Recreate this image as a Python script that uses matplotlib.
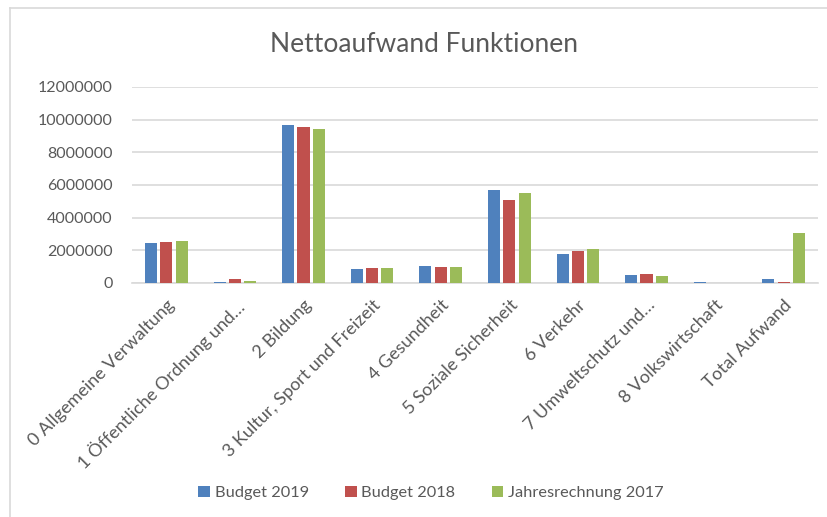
import numpy as np
import matplotlib
matplotlib.use("Agg")
import matplotlib.pyplot as plt
from matplotlib.lines import Line2D

CATEGORIES = [
    "0 Allgemeine Verwaltung",
    "1 Öffentliche Ordnung und…",
    "2 Bildung",
    "3 Kultur, Sport und Freizeit",
    "4 Gesundheit",
    "5 Soziale Sicherheit",
    "6 Verkehr",
    "7 Umweltschutz und…",
    "8 Volkswirtschaft",
    "Total Aufwand",
]
SERIES_NAMES = ["Budget 2019", "Budget 2018", "Jahresrechnung 2017"]
BUDGET_2019 = [2460000, 80000, 9680000, 840000, 1070000, 5680000, 1800000, 490000, 40000, 250000]
BUDGET_2018 = [2480000, 230000, 9540000, 920000, 980000, 5070000, 1930000, 530000, 20000, 80000]
JAHRESRECHNUNG_2017 = [2550000, 150000, 9420000, 900000, 960000, 5480000, 2110000, 430000, 20000, 3040000]
Y_TICKS = [0, 2000000, 4000000, 6000000, 8000000, 10000000, 12000000]

COLOURS = ["#4F81BD", "#C0504D", "#9BBB59"]
TEXT = "#595959"

plt.rcParams["font.family"] = ["Lato", "DejaVu Sans"]

fig = plt.figure(figsize=(8.27, 5.17), dpi=100)
ax = fig.add_axes([132 / 827, 1 - 283 / 517, (818 - 132) / 827, (283 - 87) / 517])

x = np.arange(len(CATEGORIES))
width = 0.175
step = 0.223
for i, (vals, name) in enumerate(zip([BUDGET_2019, BUDGET_2018, JAHRESRECHNUNG_2017], SERIES_NAMES)):
    ax.bar(x + (i - 1) * step, vals, width, color=COLOURS[i], label=name,
           linewidth=0, zorder=3)

ax.set_xlim(-0.5, len(CATEGORIES) - 0.5)
ax.set_ylim(0, 12000000)
ax.set_yticks(Y_TICKS)
ax.set_yticklabels([str(t) for t in Y_TICKS])
ax.yaxis.grid(True, color="#D9D9D9", linewidth=1.2, zorder=0)
ax.set_axisbelow(True)
for s in ["top", "right", "left"]:
    ax.spines[s].set_visible(False)
ax.spines["bottom"].set_color("#D9D9D9")
ax.spines["bottom"].set_linewidth(1.2)
ax.tick_params(axis="y", length=0, pad=14, labelsize=11.5, labelcolor=TEXT)
ax.tick_params(axis="x", length=0, pad=10, labelsize=13, labelcolor=TEXT)
ax.set_xticks(x)
ax.set_xticklabels(CATEGORIES, rotation=45, ha="right", rotation_mode="anchor")

fig.text(424 / 827, 1 - 44 / 517, "Nettoaufwand Funktionen", ha="center", va="center",
         fontsize=19, color=TEXT)

leg = fig.legend(loc="center", bbox_to_anchor=(431 / 827, 1 - 493 / 517), ncol=3,
                 frameon=False, fontsize=11.8, handlelength=0.7, handleheight=0.7,
                 handletextpad=0.3, columnspacing=2.2)
for t in leg.get_texts():
    t.set_color(TEXT)

# chart border (top and left visible)
fig.add_artist(Line2D([10 / 827, 10 / 827], [0, 1 - 8 / 517], transform=fig.transFigure,
                      color="#D9D9D9", linewidth=1.2))
fig.add_artist(Line2D([10 / 827, 1], [1 - 8 / 517, 1 - 8 / 517], transform=fig.transFigure,
                      color="#D9D9D9", linewidth=1.2))

fig.savefig("out.png", dpi=100)
